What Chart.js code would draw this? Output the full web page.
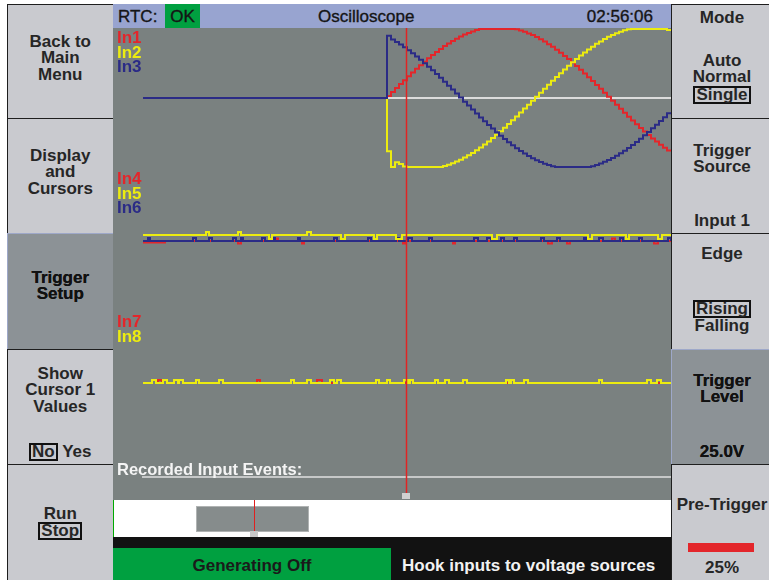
<!DOCTYPE html>
<html lang="en">
<head>
<meta charset="UTF-8" />
<title>Oscilloscope</title>
<script src="https://cdn.jsdelivr.net/npm/chart.js@4.4.1/dist/chart.umd.min.js"></script>
<style>
  body { margin:0; width:769px; height:580px; overflow:hidden; position:relative; background:#fff;
         font-family:"Liberation Sans", Arial, Helvetica, sans-serif; }
  .btn { position:absolute; box-sizing:border-box; background:#c9cacf; border:1.5px solid #1e1e1e;
         color:#262626; font-weight:bold; font-size:17px; }
  .btn.on { background:#8c9296; border-color:#9ea8c9; color:#111; text-shadow:0 0 0.6px #111; }
  .lines { position:absolute; left:0; right:0; text-align:center; line-height:16.5px; white-space:nowrap; }
  .box { display:inline-block; line-height:14px; border:2px solid #111; padding:0 1px; }
  .txt { position:absolute; line-height:20px; font-size:17px; white-space:nowrap; }
  .bar { color:#151515; -webkit-text-stroke:0.35px #151515; }
  #scope { position:absolute; left:113px; top:28px; background:#7a8180; }
</style>
</head>
<body>

<!-- left soft keys -->
<div class="btn" style="left:7px;top:4px;width:106.5px;height:115.5px;">
  <div class="lines" style="top:28.5px;">Back to<br>Main<br>Menu</div>
</div>
<div class="btn" style="left:7px;top:118px;width:106.5px;height:116.5px;">
  <div class="lines" style="top:28.5px;">Display<br>and<br>Cursors</div>
</div>
<div class="btn on" style="left:7px;top:233px;width:106.5px;height:117.5px;">
  <div class="lines" style="top:35.5px;">Trigger<br>Setup</div>
</div>
<div class="btn" style="left:7px;top:349px;width:106.5px;height:116.5px;">
  <div class="lines" style="top:15.5px;">Show<br>Cursor 1<br>Values</div>
  <div class="lines" style="top:92.5px;"><span class="box">No</span> Yes</div>
</div>
<div class="btn" style="left:7px;top:464px;width:106.5px;height:118px;">
  <div class="lines" style="top:40.5px;">Run<br><span class="box">Stop</span></div>
</div>

<!-- right soft keys -->
<div class="btn" style="left:671px;top:4px;width:102px;height:115.5px;">
  <div class="lines" style="top:4.5px;">Mode</div>
  <div class="lines" style="top:47.5px;">Auto<br>Normal<br><span class="box">Single</span></div>
</div>
<div class="btn" style="left:671px;top:118px;width:102px;height:116.5px;">
  <div class="lines" style="top:23.5px;">Trigger<br>Source</div>
  <div class="lines" style="top:93.5px;">Input 1</div>
</div>
<div class="btn" style="left:671px;top:233px;width:102px;height:117.5px;">
  <div class="lines" style="top:11.5px;">Edge</div>
  <div class="lines" style="top:65.5px;"><span class="box">Rising</span><br>Falling</div>
</div>
<div class="btn on" style="left:671px;top:349px;width:102px;height:116.5px;">
  <div class="lines" style="top:22.5px;">Trigger<br>Level</div>
  <div class="lines" style="top:93.5px;">25.0V</div>
</div>
<div class="btn" style="left:671px;top:464px;width:102px;height:118px;">
  <div class="lines" style="top:31.5px;">Pre-Trigger</div>
  <div style="position:absolute;left:15.5px;top:77.5px;width:66px;height:9px;background:#e3262b;"></div>
  <div class="lines" style="top:94.5px;">25%</div>
</div>

<!-- status bar -->
<div style="position:absolute;left:113px;top:4px;width:558px;height:24px;background:#98a4d0;"></div>
<div style="position:absolute;left:165px;top:4px;width:35px;height:24px;background:#00a040;"></div>
<div class="txt bar" style="left:118px;top:7px;">RTC:</div>
<div class="txt bar" style="left:165px;top:7px;width:35px;text-align:center;">OK</div>
<div class="txt bar" style="left:318px;top:7px;">Oscilloscope</div>
<div class="txt bar" style="left:553px;top:7px;width:100px;text-align:right;">02:56:06</div>

<canvas id="scope" width="558" height="472"></canvas>

<!-- record overview strip -->
<div style="position:absolute;left:113px;top:500px;width:558px;height:37px;background:#fff;border-left:1px solid #0a0;box-sizing:border-box;"></div>
<div style="position:absolute;left:196px;top:506px;width:113px;height:26px;background:#868c8c;border:1px solid #b0b3b3;box-sizing:border-box;"></div>
<div style="position:absolute;left:253.5px;top:500px;width:1px;height:37px;background:#e02020;"></div>
<div style="position:absolute;left:250px;top:531px;width:8px;height:6px;background:#c8c8c8;"></div>

<!-- bottom bar -->
<div style="position:absolute;left:113px;top:537px;width:558px;height:43px;background:#121212;"></div>
<div style="position:absolute;left:113px;top:548px;width:278px;height:32px;background:#00a040;"></div>
<div class="txt" style="left:113px;top:556px;width:278px;text-align:center;font-weight:bold;color:#1a1a1a;">Generating Off</div>
<div class="txt" style="left:402px;top:556px;font-weight:bold;color:#f2f2f2;">Hook inputs to voltage sources</div>

<script>
  // time axis in ms, trigger at 0
  const tStart = -61;
  const tEnd = 71;
  const triggerTime = 0;
  const cursorTime = 4.75;
  const triggerRef = 0;

  // analog inputs In1..In3 (V), one sample per ms after the trigger
  const analogTime = [-61, 0, 1, 2, 3, 4, 5, 6, 7, 8, 9, 10, 11, 12, 13, 14, 15, 16, 17, 18, 19,
    20, 21, 22, 23, 24, 25, 26, 27, 28, 29, 30, 31, 32, 33, 34, 35, 36, 37, 38, 39, 40, 41, 42,
    43, 44, 45, 46, 47, 48, 49, 50, 51, 52, 53, 54, 55, 56, 57, 58, 59, 60, 61, 62, 63, 64, 65,
    66, 67, 68, 69, 70, 71];
  const in1 = [0, 1.5, 4.4, 7.2, 10.1, 12.9, 15.7, 18.4, 21.1, 23.7, 26.3, 28.7, 31.1, 33.3, 35.5,
    37.6, 39.5, 41.3, 42.9, 44.5, 45.9, 47.1, 48.2, 49.2, 49.9, 50, 50, 50, 50, 50, 50, 50, 50,
    49.8, 48.9, 48.0, 46.8, 45.6, 44.1, 42.6, 40.9, 39.0, 37.1, 35.0, 32.8, 30.5, 28.2, 25.7,
    23.1, 20.5, 17.8, 15.1, 12.3, 9.4, 6.6, 3.7, 0.8, -2.1, -5.0, -7.9, -10.8, -13.6, -16.4,
    -19.1, -21.8, -24.3, -26.9, -29.3, -31.6, -33.9, -36.0, -38.0, -38.0];
  const in2 = [0, -38.6, -50, -46.6, -47.8, -49.6, -50, -50, -50, -50, -50, -50, -50, -50, -50,
    -49.3, -48.4, -47.3, -46.1, -44.7, -43.2, -41.6, -39.8, -37.9, -35.9, -33.7, -31.5, -29.1,
    -26.7, -24.2, -21.6, -18.9, -16.2, -13.4, -10.6, -7.7, -4.9, -2.0, 0.9, 3.8, 6.7, 9.6, 12.4,
    15.2, 18.0, 20.7, 23.3, 25.8, 28.3, 30.7, 33.0, 35.1, 37.2, 39.2, 41.0, 42.7, 44.3, 45.6,
    46.9, 48.0, 49.0, 49.8, 50, 50, 50, 50, 50, 50, 50, 50, 50, 49.2, 49.2];
  const in3 = [0, 45.0, 42.3, 40.5, 38.7, 36.7, 34.6, 32.4, 30.1, 27.7, 25.2, 22.7, 20.0, 17.3,
    14.6, 11.8, 8.9, 6.1, 3.2, 0.3, -2.7, -5.5, -8.4, -11.3, -14.1, -16.8, -19.6, -22.2, -24.8,
    -27.3, -29.7, -32.0, -34.3, -36.4, -38.4, -40.2, -42.0, -43.6, -45.1, -46.4, -47.6, -48.6,
    -49.5, -50, -50, -50, -50, -50, -50, -50, -50, -50, -49.5, -48.6, -47.5, -46.3, -45.0,
    -43.5, -41.9, -40.1, -38.2, -36.2, -34.1, -31.9, -29.6, -27.1, -24.6, -22.0, -19.4, -16.7,
    -13.9, -11.1, -11.1];

  // digital inputs: [start ms, end ms, level]
  const in4Base = 0;
  const in4Pulses = [[-61, -55.5, -0.5], [-37.25, -36.5, -0.8], [-27.75, -27.25, 0.8],
    [-21.25, -20.75, -0.8], [4, 4.5, -0.8], [16.5, 17, -0.8], [40.25, 41.25, -0.8],
    [45, 45.75, -0.8], [56.25, 57, 0.8], [66.75, 67.75, -0.8]];
  const in5Base = 2;
  const in5Pulses = [[-45.25, -44.5, 3], [-37.25, -36.5, 3], [-29.5, -28.75, 0.7], [-20, -19, 3],
    [-11.5, -10.5, 0.7], [-3.25, -2.5, 0.7], [2.25, 3.75, 0.7], [26.25, 27.5, 0.7],
    [50.25, 51.25, 0.7], [59.75, 60.5, 0.7], [67.75, 68.75, 0.7]];
  const in6Base = 0;
  const in6Pulses = [[-59.75, -59.25, 1], [-48.5, -47.75, 1], [-44.5, -43.75, 1], [-38.5, -37.75, 1],
    [-36.5, -36, 1], [-31.25, -30.5, 1], [-28.5, -28, 1], [-22.25, -21.75, 1], [-13.25, -12.5, 1],
    [-4.75, -4, 1], [2.25, 3, 1], [5.25, 6.25, 1], [10.5, 11.25, 1], [21.75, 22.75, 1], [25, 26, 1],
    [28.5, 29.25, 1], [31.75, 32.5, 1], [38.5, 39.25, 1], [42.5, 43.25, 1], [49.25, 49.75, 1],
    [53, 54, 1], [58.25, 59, 1], [63, 63.75, 1], [70.25, 71, 1]];
  const in7Base = 0;
  const in7Pulses = [[-58.75, -57.75, 1], [-57.25, -56.25, 1], [-56, -55, 1], [-53.25, -52.25, 1],
    [-52, -51, 1], [-47.75, -47, 1], [-42, -41, 1], [-32.5, -31.75, 1], [-24, -23.25, 1],
    [-20, -19, 1], [-17.5, -16.25, 1], [-12.5, -11.5, 1], [-2.75, -2, 1], [0, 0.75, 1],
    [5.75, 6.5, 1], [12, 12.75, 1], [14.5, 15.5, 1], [19, 20, 1], [31, 31.75, 1],
    [34.25, 35.25, 1], [53, 53.75, 1], [65, 66, 1]];
  const in8Base = 0;
  const in8Pulses = [[-58.75, -57.75, 1], [-56, -55, 1], [-53.25, -52.25, 1], [-52, -51, 1],
    [-47.75, -47, 1], [-42, -41, 1], [-24, -23.25, 1], [-20, -19, 1], [-14.25, -13.25, 1],
    [-12.5, -11.5, 1], [-2.75, -2, 1], [0, 0.75, 1], [4.25, 5.25, 1], [5.75, 6.5, 1],
    [12, 12.75, 1], [14.5, 15.5, 1], [19, 20, 1], [29.75, 30.5, 1], [31, 31.75, 1],
    [34.25, 35.25, 1], [53, 53.75, 1], [65, 66, 1], [67.5, 68.5, 1]];

  const RED = "#e3262b";
  const YELLOW = "#ecec10";
  const BLUE = "#2b2b86";

  function analog(values) {
    return analogTime.map((t, i) => ({ x: t, y: values[i] }));
  }
  function digital(base, pulses) {
    const pts = [{ x: tStart, y: base }];
    pulses.forEach((p) => {
      pts.push({ x: p[0], y: p[2] });
      pts.push({ x: p[1], y: base });
    });
    pts.push({ x: tEnd, y: base });
    return pts;
  }
  function trace(label, data, color, axis, order) {
    return { label: label, data: data, borderColor: color, borderWidth: 2, stepped: true,
      pointRadius: 0, fill: false, yAxisID: axis, order: order };
  }

  // where the channel names sit (canvas px)
  const labelSpots = [
    ["In1", RED, 15], ["In2", YELLOW, 29.5], ["In3", BLUE, 44],
    ["In4", RED, 156], ["In5", YELLOW, 171], ["In6", BLUE, 185],
    ["In7", RED, 299], ["In8", YELLOW, 314],
  ];

  const scopeOverlay = {
    id: "scopeOverlay",
    beforeDatasetsDraw(chart) {
      const { ctx, chartArea, scales } = chart;
      const y0 = scales.ya.getPixelForValue(triggerRef);
      const x0 = scales.x.getPixelForValue(triggerTime);
      ctx.save();
      ctx.lineWidth = 2;
      ctx.strokeStyle = "#dcdcdc";
      ctx.beginPath();
      ctx.moveTo(x0, y0);
      ctx.lineTo(chartArea.right, y0);
      ctx.stroke();
      // recorded events rule
      ctx.strokeStyle = "#c6c8c8";
      ctx.beginPath();
      ctx.moveTo(chartArea.left - 1, 449);
      ctx.lineTo(chartArea.right, 449);
      ctx.stroke();
      ctx.restore();
    },
    afterDatasetsDraw(chart) {
      const { ctx, chartArea, scales } = chart;
      const cx = Math.round(scales.x.getPixelForValue(cursorTime)) + 0.5;
      ctx.save();
      ctx.strokeStyle = "#e02424";
      ctx.lineWidth = 1.5;
      ctx.beginPath();
      ctx.moveTo(cx, chartArea.top);
      ctx.lineTo(cx, 465);
      ctx.stroke();
      ctx.fillStyle = "#d0d0d0";
      ctx.fillRect(cx - 4.5, 465, 8, 6);

      ctx.font = "bold 17px 'Liberation Sans', Arial, sans-serif";
      ctx.textBaseline = "alphabetic";
      labelSpots.forEach((l) => {
        ctx.fillStyle = l[1];
        ctx.fillText(l[0], 4, l[2]);
      });
      ctx.fillStyle = "#f4f4f4";
      ctx.font = "bold 16.5px 'Liberation Sans', Arial, sans-serif";
      ctx.fillText("Recorded Input Events:", 4, 447);
      ctx.restore();
    },
  };

  new Chart(document.getElementById("scope"), {
    type: "line",
    data: {
      datasets: [
        trace("In1", analog(in1), RED, "ya", 2),
        trace("In2", analog(in2), YELLOW, "ya", 1),
        trace("In3", analog(in3), BLUE, "ya", 0),
        trace("In4", digital(in4Base, in4Pulses), RED, "yd", 5),
        trace("In5", digital(in5Base, in5Pulses), YELLOW, "yd", 3),
        trace("In6", digital(in6Base, in6Pulses), BLUE, "yd", 4),
        trace("In7", digital(in7Base, in7Pulses), RED, "ye", 7),
        trace("In8", digital(in8Base, in8Pulses), YELLOW, "ye", 6),
      ],
    },
    options: {
      responsive: false,
      animation: false,
      devicePixelRatio: 1,
      layout: { padding: { left: 30, right: 0, top: 0, bottom: 0 } },
      plugins: { legend: { display: false }, tooltip: { enabled: false } },
      scales: {
        x: { type: "linear", min: tStart, max: tEnd, display: false },
        ya: { type: "linear", min: -291.33, max: 50.7, display: false },
        yd: { type: "linear", min: -86.33, max: 71, display: false },
        ye: { type: "linear", min: -39, max: 118.33, display: false },
      },
    },
    plugins: [scopeOverlay],
  });
</script>
</body>
</html>
